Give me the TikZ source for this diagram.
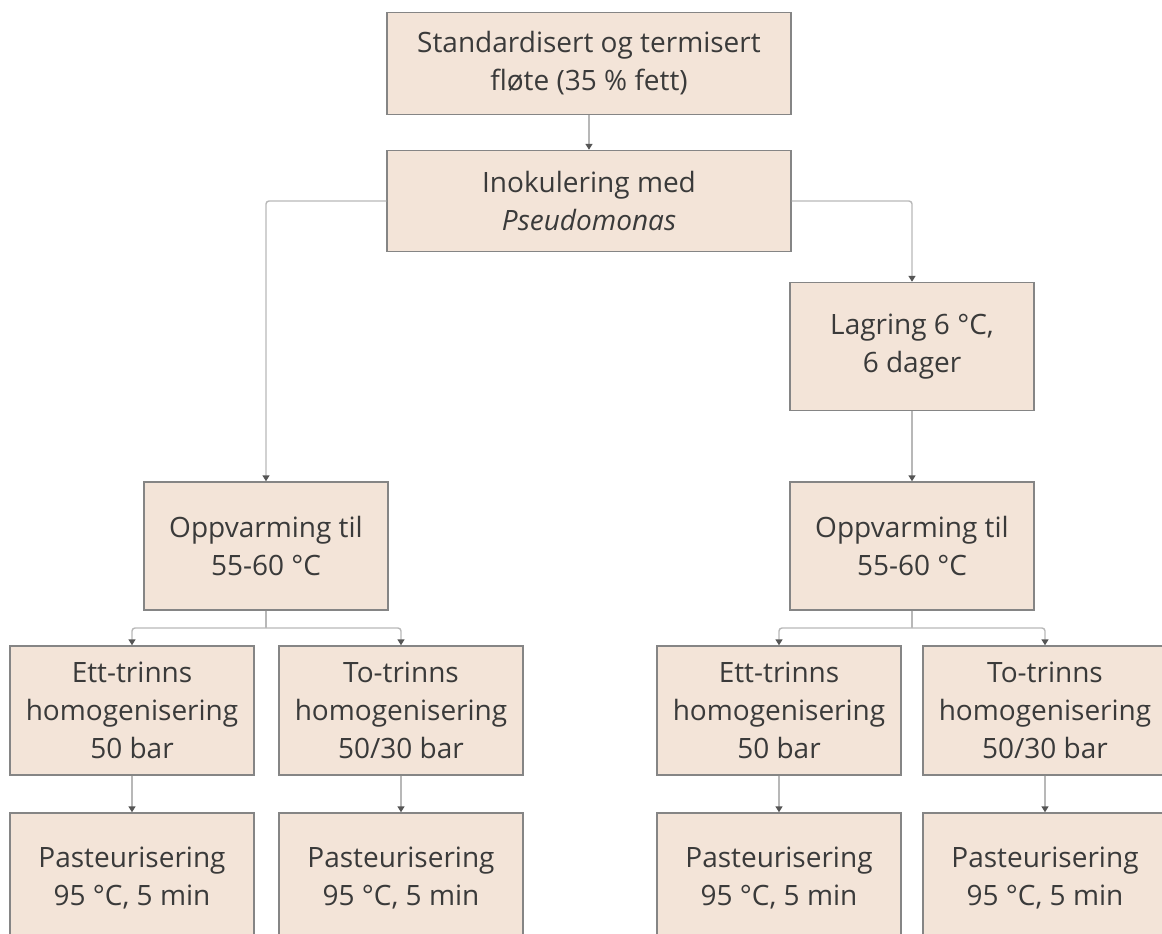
\documentclass[tikz,border=0pt]{standalone}
\usepackage{fontspec}
\setmainfont{Open Sans}
\usetikzlibrary{arrows.meta}
\definecolor{boxfill}{HTML}{F3E4D8}
\definecolor{boxline}{HTML}{858585}
\definecolor{wire}{HTML}{B8B8B8}
\definecolor{tip}{HTML}{555555}
\definecolor{ink}{HTML}{3A3A3A}
\begin{document}
\begin{tikzpicture}[x=1pt,y=-1pt,
    stage/.style={draw=boxline,line width=1.4pt,fill=boxfill,text=ink,align=center,
      minimum width=244pt,minimum height=128pt,inner sep=0pt,
      font=\fontsize{28}{38}\selectfont},
    flow/.style={draw=wire,line width=1.4pt,rounded corners=3pt,
      -{Triangle[length=6pt,width=7pt,color=tip]}}]
  \useasboundingbox (0,0) rectangle (1162,934);
  \draw
    (589,63.5) node[stage,minimum width=404pt,minimum height=102pt] (flote){Standardisert og termisert\\fløte (35 \% fett)}
    (589,201) node[stage,minimum width=404pt,minimum height=101pt] (inok){Inokulering med\\\textit{Pseudomonas}}
    (912,346.5) node[stage] (lagr){Lagring 6 °C,\\6 dager}
    (266,546) node[stage] (oppL){Oppvarming til\\55-60 °C}
    (912,546) node[stage] (oppR){Oppvarming til\\55-60 °C}
    (132,710.5) node[stage,minimum height=129pt] (ettL){Ett-trinns\\homogenisering\\50 bar}
    (401,710.5) node[stage,minimum height=129pt] (toL){To-trinns\\homogenisering\\50/30 bar}
    (779,710.5) node[stage,minimum height=129pt] (ettR){Ett-trinns\\homogenisering\\50 bar}
    (1045,710.5) node[stage,minimum height=129pt] (toR){To-trinns\\homogenisering\\50/30 bar}
    (132,878) node[stage,minimum height=130pt] (pasL1){Pasteurisering\\95 °C, 5 min}
    (401,878) node[stage,minimum height=130pt] (pasL2){Pasteurisering\\95 °C, 5 min}
    (779,878) node[stage,minimum height=130pt] (pasR1){Pasteurisering\\95 °C, 5 min}
    (1045,878) node[stage,minimum height=130pt] (pasR2){Pasteurisering\\95 °C, 5 min};
  \coordinate (brL) at (266,628);
  \coordinate (brR) at (912,628);
  \begin{scope}[flow]
    \draw (flote) to (inok);
    \draw (inok.west) -| (oppL.north);
    \draw (inok.east) -| (lagr.north);
    \draw (lagr) to (oppR);
    \draw[-] (oppL.south) -- (brL);
    \draw (brL) -| (ettL.north);
    \draw (brL) -| (toL.north);
    \draw[-] (oppR.south) -- (brR);
    \draw (brR) -| (ettR.north);
    \draw (brR) -| (toR.north);
    \draw (ettL) to (pasL1);
    \draw (toL) to (pasL2);
    \draw (ettR) to (pasR1);
    \draw (toR) to (pasR2);
  \end{scope}
\end{tikzpicture}
\end{document}
